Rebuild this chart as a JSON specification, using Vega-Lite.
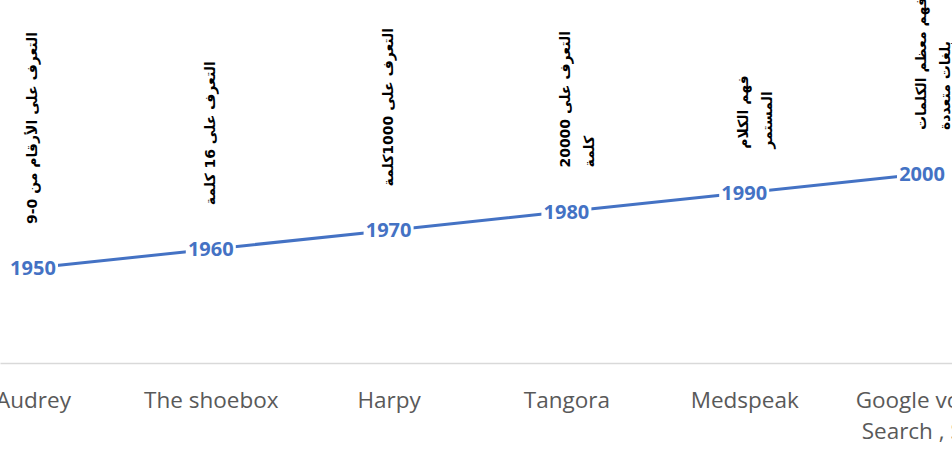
{
  "$schema": "https://vega.github.io/schema/vega-lite/v6.json",
  "width": 952,
  "height": 363,
  "autosize": "none",
  "padding": {"top": 0, "left": 0, "right": 0, "bottom": 87},
  "background": "white",
  "config": {"view": {"stroke": null}},
  "data": {
    "values": [
      {"system": "Audrey", "year": 1950, "note": "\u2067التعرف على الأرقام من \u20669-0\u2069\u2069"},
      {"system": "The shoebox", "year": 1960, "note": "التعرف على 16 كلمة"},
      {"system": "Harpy", "year": 1970, "note": "التعرف على 1000كلمة"},
      {"system": "Tangora", "year": 1980, "note": "التعرف على 20000\nكلمة"},
      {"system": "Medspeak", "year": 1990, "note": "فهم الكلام\nالمستمر"},
      {"system": "Google voice Search , Siri", "year": 2000, "note": "فهم معظم الكلمات\nبلغات متعددة"}
    ]
  },
  "encoding": {
    "x": {
      "field": "system",
      "type": "nominal",
      "sort": null,
      "scale": {"type": "point", "range": [0, 955], "padding": 0.1856},
      "axis": {
        "title": null,
        "ticks": false,
        "tickSize": 0,
        "grid": false,
        "domainColor": "#D9D9D9",
        "domainWidth": 1.5,
        "labelAngle": 0,
        "labelFont": "Open Sans",
        "labelFontSize": 22.5,
        "labelColor": "#595959",
        "labelPadding": 44,
        "labelBaseline": "alphabetic",
        "labelLineHeight": 31,
        "labelFlush": false,
        "labelOverlap": false,
        "labelBound": false,
        "labelExpr": "split(replace(datum.label, 'voice ', 'voice|'), '|')"
      }
    },
    "y": {
      "field": "year",
      "type": "quantitative",
      "scale": {"domain": [1950, 2000], "range": [268, 174], "zero": false, "nice": false},
      "axis": null
    }
  },
  "layer": [
    {"mark": {"type": "line", "color": "#4472C4", "strokeWidth": 3}},
    {
      "mark": {
        "type": "point",
        "shape": "M-1,-0.44H1V0.44H-1Z",
        "filled": true,
        "color": "white",
        "opacity": 1,
        "size": 2500
      }
    },
    {
      "mark": {
        "type": "text",
        "font": "Open Sans",
        "fontSize": 20,
        "fontWeight": "bold",
        "color": "#4472C4",
        "baseline": "middle",
        "dy": 1
      },
      "encoding": {"text": {"field": "year", "type": "nominal"}}
    },
    {
      "mark": {
        "type": "text",
        "font": "DejaVu Sans",
        "fontSize": 14,
        "fontWeight": "bold",
        "color": "black",
        "angle": 270,
        "align": "left",
        "baseline": "middle",
        "lineBreak": "\n",
        "lineHeight": 24,
        "yOffset": -44
      },
      "encoding": {"text": {"field": "note", "type": "nominal"}}
    }
  ]
}
